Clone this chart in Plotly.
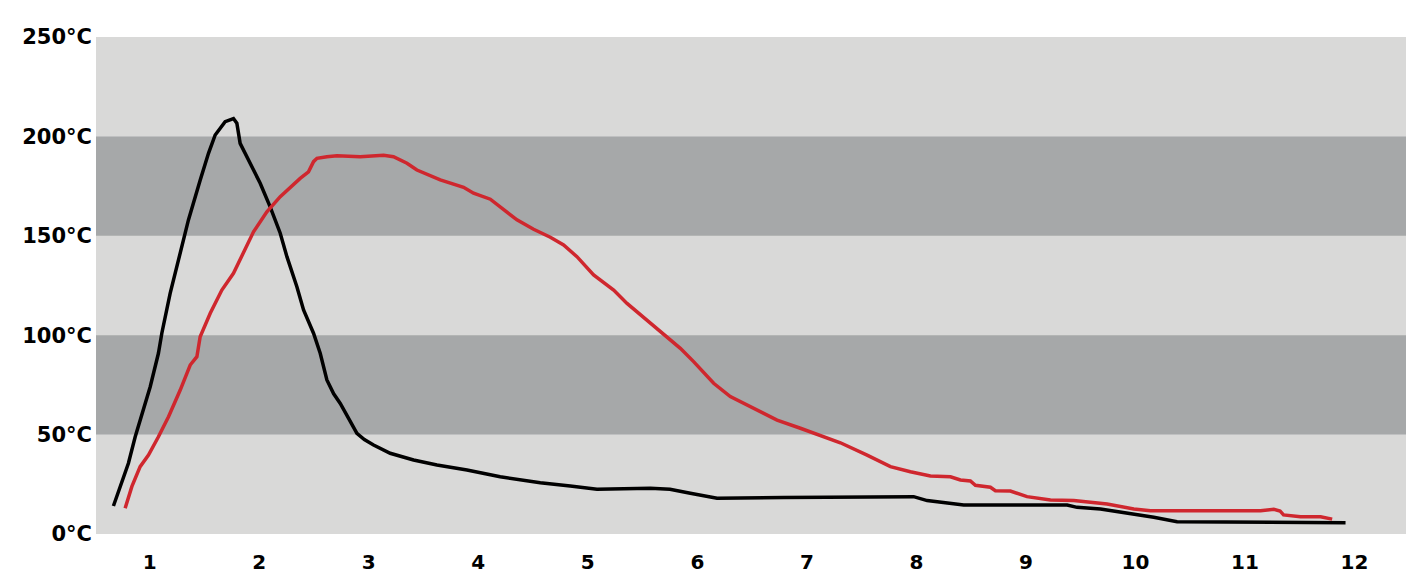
import plotly.graph_objects as go

# Black curve (time, temperature °C)
black_x = [0.669, 0.746, 0.806, 0.868, 0.929, 1.005, 1.08, 1.111, 1.187, 1.279, 1.354, 1.461, 1.537,
           1.598, 1.689, 1.765, 1.796, 1.826, 1.918, 2.009, 2.10, 2.192, 2.253, 2.344, 2.405, 2.496,
           2.557, 2.618, 2.68, 2.74, 2.825, 2.892, 2.96, 3.044, 3.196, 3.409, 3.623, 3.897, 4.2, 4.566, 4.84,
           5.084, 5.571, 5.75, 5.936, 6.18, 6.788, 7.975, 8.098, 8.249, 8.432, 9.376, 9.467, 9.68, 9.985,
           10.167, 10.38, 11.918]
black_y = [14.1, 25.5, 35.6, 48.9, 60.7, 74.1, 90.9, 101, 121, 141, 158, 178, 191.5,
           200.7, 207.4, 209, 206.6, 196.5, 186.5, 176.4, 164.6, 151.3, 139.5, 124.4, 112.7, 101,
           90.9, 77.5, 70.5, 65.7, 57.3, 50.6, 47.5, 44.8, 40.6, 37.2, 34.7, 32.2, 28.8, 25.8, 24.1,
           22.5, 23, 22.5, 20.5, 18, 18.3, 18.8, 16.8, 15.7, 14.6, 14.6, 13.4, 12.6, 10.1,
           8.4, 6.2, 5.7]

# Red curve
red_x = [0.776, 0.837, 0.913, 0.989, 1.08, 1.172, 1.279, 1.37, 1.431, 1.461, 1.553, 1.659, 1.765,
         1.872, 1.948, 2.07, 2.192, 2.374, 2.45, 2.496, 2.527, 2.618, 2.71, 2.922, 3.135, 3.226,
         3.349, 3.44, 3.653, 3.866, 3.957, 4.11, 4.231, 4.353, 4.505, 4.658, 4.779, 4.901, 5.053,
         5.236, 5.358, 5.54, 5.692, 5.845, 5.966, 6.149, 6.301, 6.484, 6.728, 6.941, 7.185, 7.306,
         7.55, 7.763, 7.945, 8.128, 8.311, 8.402, 8.493, 8.539, 8.676, 8.721, 8.858, 9.01, 9.224,
         9.437, 9.741, 9.985, 10.137, 11.142, 11.263, 11.32, 11.352, 11.507, 11.69, 11.796]
red_y = [12.9, 23.8, 33.9, 39.7, 48.9, 59, 72.4, 85, 89.2, 99.2, 111, 122.7, 131.1,
         142.9, 152, 162.1, 169.7, 178.9, 182.2, 187.3, 189, 189.8, 190.3, 189.8, 190.5, 189.8,
         186.5, 183.1, 178.1, 174.4, 171.4, 168.4, 163, 158, 153.3, 149.3, 145.4, 139.5, 130.3,
         122.7, 116, 107.6, 100.1, 93.4, 86.7, 75.8, 69.1, 64, 57.3, 53.2, 48.6, 45.9,
         39.7, 33.9, 31.3, 29.2, 28.8, 27.2, 26.7, 24.5, 23.5, 21.8, 21.6, 18.8, 17.1,
         16.8, 15.1, 12.6, 11.7, 11.7, 12.4, 11.6, 9.6, 8.7, 8.7, 7.5]

x_ticks = list(range(1, 13))
y_ticks = [0, 50, 100, 150, 200, 250]
y_labels = ["0°C", "50°C", "100°C", "150°C", "200°C", "250°C"]
dark_bands = [(50, 100), (150, 200)]

fig = go.Figure()
fig.add_trace(go.Scatter(x=black_x, y=black_y, mode="lines",
                         line=dict(color="#000000", width=3.5), showlegend=False))
fig.add_trace(go.Scatter(x=red_x, y=red_y, mode="lines",
                         line=dict(color="#cf272e", width=3.5), showlegend=False))

for lo, hi in dark_bands:
    fig.add_shape(type="rect", xref="paper", yref="y", x0=0, x1=1, y0=lo, y1=hi,
                  fillcolor="#a6a8a9", line_width=0, layer="below")

font_family = "'DejaVu Sans', Arial, sans-serif"
fig.update_layout(
    width=1417, height=570,
    margin=dict(l=88, r=19, t=29, b=44, autoexpand=False),
    paper_bgcolor="white", plot_bgcolor="#d9d9d8",
    xaxis=dict(range=[0.51, 12.47], tickvals=x_ticks, showgrid=False, zeroline=False,
               showline=False, ticks="", ticklabelstandoff=14, automargin=False,
               tickfont=dict(family=font_family, size=20, color="#000", weight="bold")),
    yaxis=dict(range=[0, 250], tickvals=y_ticks, ticktext=y_labels, showgrid=False,
               zeroline=False, showline=False, ticks="", ticklabelstandoff=3, automargin=False,
               tickfont=dict(family=font_family, size=21, color="#000", weight="bold")),
)

fig.write_html("out.html")
